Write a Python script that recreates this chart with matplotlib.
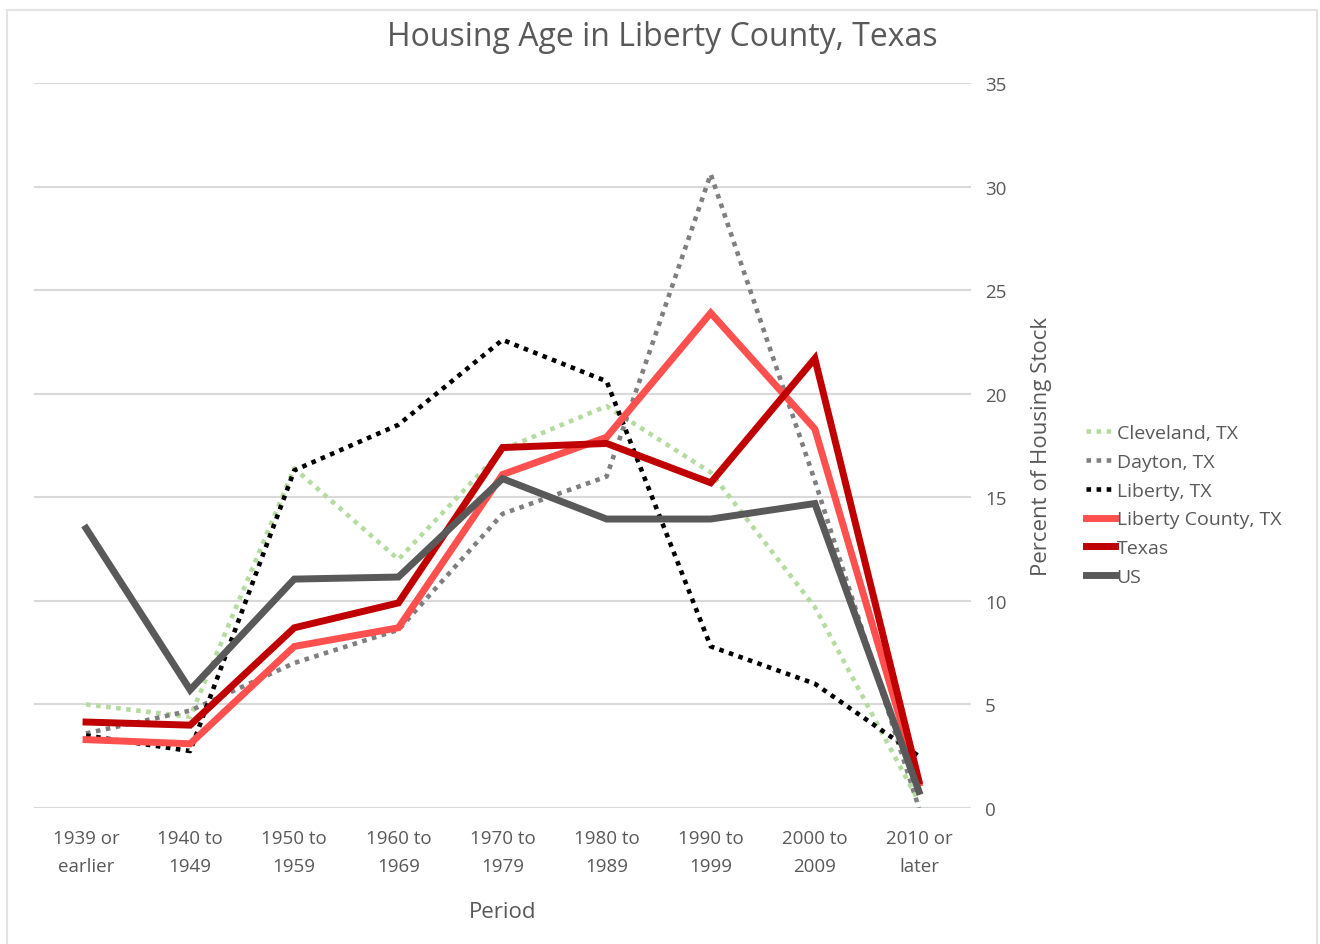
import matplotlib
matplotlib.use("Agg")
import matplotlib.pyplot as plt
from matplotlib.patches import Rectangle

categories = ["1939 or\nearlier", "1940 to\n1949", "1950 to\n1959", "1960 to\n1969",
              "1970 to\n1979", "1980 to\n1989", "1990 to\n1999", "2000 to\n2009", "2010 or\nlater"]

cleveland = [5.0, 4.4, 16.4, 12.0, 17.3, 19.4, 16.2, 9.7, 0.3]
dayton = [3.6, 4.7, 7.0, 8.6, 14.2, 16.0, 30.6, 15.8, 0.0]
liberty = [3.5, 2.75, 16.3, 18.5, 22.6, 20.6, 7.8, 6.0, 2.5]
liberty_county = [3.3, 3.1, 7.8, 8.7, 16.1, 17.9, 23.9, 18.3, 1.2]
texas = [4.15, 4.0, 8.7, 9.9, 17.4, 17.6, 15.7, 21.7, 1.3]
us = [13.5, 5.7, 11.05, 11.15, 15.9, 13.95, 13.95, 14.7, 0.8]

series_names = ["Cleveland, TX", "Dayton, TX", "Liberty, TX", "Liberty County, TX", "Texas", "US"]

plt.rcParams['font.family'] = ['Open Sans', 'DejaVu Sans']
text_col = "#595959"

fig = plt.figure(figsize=(13.2, 9.45), dpi=100)
ax = fig.add_axes([34/1320, 1-809/945, (971-34)/1320, (809-84)/945])

x = list(range(len(categories)))
styles = [
    (cleveland, dict(color="#B5DBA0", lw=3.3, ls=(0, (1, 1.2)))),
    (dayton, dict(color="#7F7F7F", lw=3.3, ls=(0, (1, 1.2)))),
    (liberty, dict(color="#000000", lw=3.3, ls=(0, (1, 1.2)))),
    (liberty_county, dict(color="#FF5050", lw=5.0, ls="-")),
    (texas, dict(color="#C00000", lw=5.0, ls="-")),
    (us, dict(color="#595959", lw=5.0, ls="-")),
]
for (vals, st), name in zip(styles, series_names):
    ax.plot(x, vals, label=name, solid_joinstyle="miter", **st)

ax.set_xlim(-0.5, len(categories) - 0.5)
ax.set_ylim(0, 35)
ax.set_yticks(range(0, 36, 5))
ax.yaxis.tick_right()
ax.yaxis.set_label_position("right")
ax.set_xticks(x)
ax.set_xticklabels(categories, fontsize=13.5, color=text_col, linespacing=1.7)
ax.tick_params(axis="both", length=0, labelsize=13.5, labelcolor=text_col)
ax.tick_params(axis="y", pad=10)
ax.tick_params(axis="x", pad=15)
for s in ax.spines.values():
    s.set_visible(False)
ax.grid(axis="y", color="#D9D9D9", lw=1.5)
ax.set_axisbelow(True)

ax.set_xlabel("Period", fontsize=16, color=text_col, labelpad=19)
ax.set_ylabel("Percent of Housing Stock", fontsize=16, color=text_col, labelpad=18)

fig.text(662/1320, 1-37/945, "Housing Age in Liberty County, Texas", ha="center", va="center",
         fontsize=23, color=text_col)

leg = fig.legend(loc="center left", bbox_to_anchor=(1068/1320, 1-506/945), frameon=False,
                 fontsize=14, labelcolor=text_col, handlelength=1.5, handletextpad=0.1,
                 labelspacing=0.55)

fig.patches.append(Rectangle((7/1320, -0.05), (1317-7)/1320, 1.05 - 11/945, transform=fig.transFigure,
                             fill=False, edgecolor="#E3E3E3", lw=1.5))

fig.savefig("out.png", dpi=100, facecolor="white")
